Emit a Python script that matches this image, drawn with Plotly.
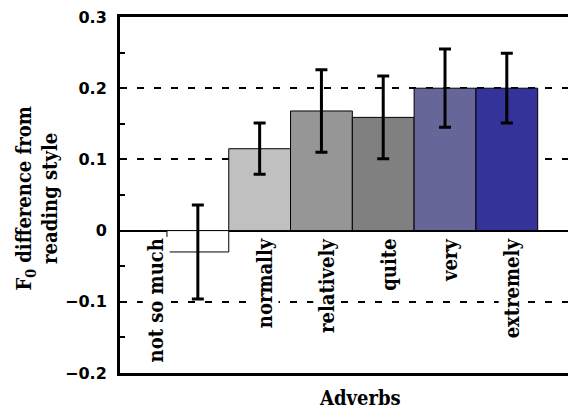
import plotly.graph_objects as go

categories = ["not so much", "normally", "relatively", "quite", "very", "extremely"]
values = [-0.030, 0.115, 0.168, 0.159, 0.200, 0.200]
errors = [0.066, 0.036, 0.058, 0.058, 0.055, 0.049]
colors = ["#FFFFFF", "#C0C0C0", "#969696", "#808080", "#666699", "#333399"]
tick_values = [-0.2, -0.1, 0, 0.1, 0.2, 0.3]
tick_labels = ["−0.2", "−0.1", "0", "0.1", "0.2", "0.3"]

xpos = list(range(len(categories)))
serif = "DejaVu Serif Condensed"

fig = go.Figure()
fig.add_trace(go.Bar(
    x=xpos, y=values, width=1,
    marker=dict(color=colors, line=dict(color="black", width=1)),
    error_y=dict(type="data", array=errors, visible=True, color="black",
                 thickness=3, width=6),
    showlegend=False,
))

annotations = []
for i, c in enumerate(categories):
    xa = -0.68 if i == 0 else i + 0.08
    annotations.append(dict(
        x=xa, y=0, xref="x", yref="y", text="<b>%s</b>" % c, showarrow=False,
        textangle=-90, xanchor="center", yanchor="top", yshift=-6,
        bgcolor="white", font=dict(family=serif, size=20, color="black"),
    ))
annotations.append(dict(
    x=-0.182, y=0.49, xref="paper", yref="paper",
    text="<b>F<sub>0</sub> difference from<br>reading style</b>",
    showarrow=False, textangle=-90, xanchor="center", yanchor="middle",
    font=dict(family=serif, size=20, color="black"),
))
annotations.append(dict(
    x=0.526, y=-0.07, xref="paper", yref="paper", text="<b>Adverbs</b>",
    showarrow=False, xanchor="center", yanchor="middle",
    font=dict(family=serif, size=20, color="black"),
))

fig.update_layout(
    width=568, height=402,
    margin=dict(l=112, r=0, t=7, b=37),
    plot_bgcolor="white", paper_bgcolor="white",
    annotations=annotations,
    xaxis=dict(range=[-1.26, 6.12], showticklabels=False, showgrid=False,
               zeroline=False, showline=True, linecolor="black", linewidth=3,
               mirror=True, ticks=""),
    yaxis=dict(range=[-0.2, 0.3], tickmode="array", tickvals=tick_values,
               ticktext=tick_labels, showgrid=True, ticklabeloverflow="allow",
               gridcolor="black", gridwidth=2, griddash="7px,10px",
               zeroline=True, zerolinecolor="black", zerolinewidth=2,
               showline=True, linecolor="black", linewidth=3, ticks="",
               ticklabelstandoff=7,
               tickfont=dict(family="DejaVu Sans", size=16, color="black",
                             weight="bold"),
               minor=dict(ticks="inside", ticklen=5, tickwidth=2,
                          tickcolor="black", dtick=0.1, tick0=0.05,
                          showgrid=False)),
)

fig.write_html("out.html")
